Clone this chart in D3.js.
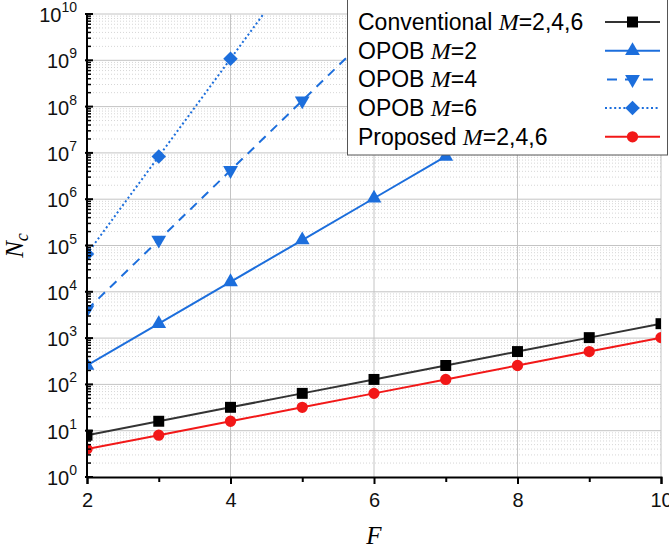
<!DOCTYPE html>
<html>
<head>
<meta charset="utf-8">
<script src="https://cdn.jsdelivr.net/npm/d3@7"></script>
<style>
  body { margin: 0; background: #fff; }
  svg { display: block; }
</style>
</head>
<body>
<div class="chart"></div>
<script>
// values
var fValues = [2, 3, 4, 5, 6, 7, 8, 9, 10];
var conventional = [8, 16, 32, 64, 128, 256, 512, 1024, 2048];
var proposed = [4, 8, 16, 32, 64, 128, 256, 512, 1024];
var opobM2 = [256, 2048, 16384, 131072, 1048576, 8388608, 67108864, 536870912, 4294967296];
var opobM4 = [4096, 131072, 4194304, 134217728, 4294967296, 137438953472];
var opobM6 = [65536, 8388608, 1073741824, 137438953472];
var xTicks = [2, 4, 6, 8, 10];
var yExponents = [0, 1, 2, 3, 4, 5, 6, 7, 8, 9, 10];

var width = 669, height = 551;
var margin = { top: 14, right: 8, bottom: 74, left: 87 };
var blue = "#1c6edc", red = "#f21818";

var series = [
    { name: "Conventional ", m: "=2,4,6", values: conventional, color: "#333", mark: "#000", symbol: d3.symbolSquare, size: 120, dash: null, rot: 0 },
    { name: "OPOB ", m: "=2", values: opobM2, color: blue, mark: blue, symbol: d3.symbolTriangle, size: 95, dash: null, rot: 0 },
    { name: "OPOB ", m: "=4", values: opobM4, color: blue, mark: blue, symbol: d3.symbolTriangle, size: 95, dash: "9,7", rot: 180 },
    { name: "OPOB ", m: "=6", values: opobM6, color: blue, mark: blue, symbol: d3.symbolSquare, size: 105, dash: "2,2.6", rot: 45 },
    { name: "Proposed ", m: "=2,4,6", values: proposed, color: red, mark: red, symbol: d3.symbolCircle, size: 100, dash: null, rot: 0 }
];

var x = d3.scaleLinear().domain([2, 10]).range([margin.left, width - margin.right]);
var y = d3.scaleLog().domain([1, 1e10]).range([height - margin.bottom, margin.top]);

var svg = d3.select(".chart").append("svg")
    .attr("width", width)
    .attr("height", height)
    .attr("font-family", "'Liberation Sans', Arial, sans-serif");

svg.append("defs").append("clipPath").attr("id", "plot")
    .append("rect")
    .attr("x", margin.left).attr("y", margin.top)
    .attr("width", width - margin.left - margin.right)
    .attr("height", height - margin.top - margin.bottom);

// minor grid (log decades)
var minorVals = [];
yExponents.slice(0, -1).forEach(function (e) {
    for (var k = 2; k <= 9; k++) minorVals.push(k * Math.pow(10, e));
});
svg.append("g")
    .selectAll("line")
    .data(minorVals)
    .join("line")
    .attr("x1", margin.left).attr("x2", width - margin.right)
    .attr("y1", d => y(d)).attr("y2", d => y(d))
    .attr("stroke", "#d6d6d6")
    .attr("stroke-width", 1)
    .attr("stroke-dasharray", "1,2");

// major grid
svg.append("g")
    .selectAll("line")
    .data(yExponents.slice(1))
    .join("line")
    .attr("x1", margin.left).attr("x2", width - margin.right)
    .attr("y1", d => y(Math.pow(10, d))).attr("y2", d => y(Math.pow(10, d)))
    .attr("stroke", "#c4c4c4");
svg.append("g")
    .selectAll("line")
    .data(xTicks.slice(1))
    .join("line")
    .attr("x1", d => x(d)).attr("x2", d => x(d))
    .attr("y1", margin.top).attr("y2", height - margin.bottom)
    .attr("stroke", "#c4c4c4");

// lines and markers
var plot = svg.append("g").attr("clip-path", "url(#plot)");
var line = d3.line().x((d, i) => x(fValues[i])).y(d => y(d));

series.forEach(function (s) {
    plot.append("path")
        .datum(s.values)
        .attr("fill", "none")
        .attr("stroke", s.color)
        .attr("stroke-width", 2)
        .attr("stroke-dasharray", s.dash)
        .attr("d", line);
});
series.forEach(function (s) {
    plot.append("g")
        .selectAll("path")
        .data(s.values)
        .join("path")
        .attr("fill", s.mark)
        .attr("transform", (d, i) => `translate(${x(fValues[i])},${y(d)}) rotate(${s.rot})`)
        .attr("d", d3.symbol().type(s.symbol).size(s.size));
});

// axes
var xAxis = svg.append("g")
    .attr("transform", `translate(0,${height - margin.bottom})`)
    .call(d3.axisBottom(x).tickValues(d3.range(2, 11)).tickSize(7).tickFormat(d => xTicks.indexOf(d) >= 0 ? d : ""));
xAxis.select(".domain").attr("stroke", "#000").attr("stroke-width", 2);
xAxis.selectAll(".tick line").attr("stroke-width", 2)
    .attr("y2", d => xTicks.indexOf(d) >= 0 ? 7 : 5);
xAxis.selectAll(".tick text").attr("font-size", 20).attr("fill", "#111")
    .attr("y", 30).attr("dy", 0);

var yAxis = svg.append("g").attr("transform", `translate(${margin.left},0)`);
yAxis.append("line")
    .attr("x1", 0).attr("x2", 0)
    .attr("y1", margin.top).attr("y2", height - margin.bottom)
    .attr("stroke", "#000").attr("stroke-width", 2);
yAxis.selectAll(".minor")
    .data(minorVals)
    .join("line")
    .attr("x1", 0).attr("x2", 4)
    .attr("y1", d => y(d)).attr("y2", d => y(d))
    .attr("stroke", "#000").attr("stroke-width", 1.5);
yAxis.selectAll(".major")
    .data(yExponents)
    .join("line")
    .attr("x1", -2).attr("x2", 6)
    .attr("y1", d => y(Math.pow(10, d))).attr("y2", d => y(Math.pow(10, d)))
    .attr("stroke", "#000").attr("stroke-width", 2);
var yLabels = yAxis.selectAll(".lab")
    .data(yExponents)
    .join("text")
    .attr("x", -10)
    .attr("y", d => y(Math.pow(10, d)) + 8)
    .attr("text-anchor", "end")
    .attr("fill", "#111")
    .attr("font-size", 20);
yLabels.append("tspan").text("10");
yLabels.append("tspan").attr("font-size", 14).attr("dy", -10).text(d => d);

// axis titles
svg.append("text")
    .attr("x", (margin.left + width - margin.right) / 2)
    .attr("y", 544)
    .attr("text-anchor", "middle")
    .attr("font-family", "'Liberation Serif', 'Times New Roman', serif")
    .attr("font-style", "italic")
    .attr("font-size", 25)
    .text("F");
var yTitle = svg.append("text")
    .attr("transform", `translate(23,${(margin.top + height - margin.bottom) / 2}) rotate(-90)`)
    .attr("text-anchor", "middle")
    .attr("font-family", "'Liberation Serif', 'Times New Roman', serif")
    .attr("font-style", "italic")
    .attr("font-size", 25);
yTitle.append("tspan").text("N");
yTitle.append("tspan").attr("font-size", 18).attr("dy", 5).text("c");

// legend
var legend = svg.append("g");
legend.append("rect")
    .attr("x", 347.5).attr("y", -1)
    .attr("width", 320).attr("height", 156)
    .attr("fill", "#fff")
    .attr("stroke", "#555").attr("stroke-width", 1);
series.forEach(function (s, i) {
    var cy = 22 + i * 28.7;
    var t = legend.append("text")
        .attr("x", 358).attr("y", cy + 8)
        .attr("font-size", 23)
        .attr("fill", "#000");
    t.append("tspan").text(s.name);
    t.append("tspan")
        .attr("font-family", "'Liberation Serif', 'Times New Roman', serif")
        .attr("font-style", "italic").attr("font-size", 24)
        .text("M");
    t.append("tspan").text(s.m);
    legend.append("line")
        .attr("x1", 605).attr("x2", 660)
        .attr("y1", cy).attr("y2", cy)
        .attr("stroke", s.color).attr("stroke-width", 2)
        .attr("stroke-dasharray", s.dash ? (s.rot === 180 ? "10,8" : s.dash) : null)
        .attr("stroke-dashoffset", s.rot === 180 ? -2 : 0);
    legend.append("path")
        .attr("fill", s.mark)
        .attr("transform", `translate(632.5,${cy}) rotate(${s.rot})`)
        .attr("d", d3.symbol().type(s.symbol).size(s.size));
});
</script>
</body>
</html>
